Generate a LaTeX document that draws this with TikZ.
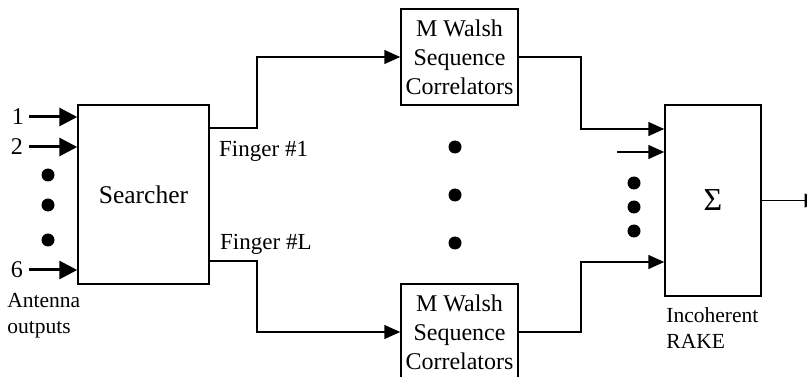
\documentclass[tikz,border=0pt]{standalone}
\usepackage{fontspec}
\setmainfont{Liberation Serif}
\usetikzlibrary{positioning,arrows.meta}

\begin{document}
\begin{tikzpicture}[
  x=1pt, y=-1pt,
  blockstyle/.style={
        draw,
        rectangle,
        line width=1.5pt,
        inner sep=0pt,
        align=center
  },
  wirestyle/.style={line width=1.5pt, -{Triangle[length=16pt, width=14pt]}},
  feedstyle/.style={line width=3pt, -{Triangle[length=18pt, width=18pt]}},
  dotstyle/.style={circle, fill, inner sep=0pt, minimum size=13pt},
  labelstyle/.style={inner sep=0pt, align=left, font=\fontsize{21.5}{26}\selectfont}
]

    \useasboundingbox (0,0) rectangle (807,377);
    \clip (0,0) rectangle (807,377);

    % searcher and its antenna inputs
    \node[blockstyle, minimum width=131pt, minimum height=179pt,
          font=\fontsize{25.5}{30}\selectfont] (searcher) at (143.5,194.5) {Searcher};

    \coordinate (A_1) at (29,117);
    \coordinate (A_2) at (29,147);
    \coordinate (A_6) at (29,270);
    \node[anchor=east, inner sep=0pt, font=\fontsize{24}{28}\selectfont] at (24,117) {1};
    \node[anchor=east, inner sep=0pt, font=\fontsize{24}{28}\selectfont] at (23,147) {2};
    \node[anchor=east, inner sep=0pt, font=\fontsize{24}{28}\selectfont] at (23,270) {6};
    \draw[feedstyle] (A_1) -- (A_1 -| searcher.west);
    \draw[feedstyle] (A_2) -- (A_2 -| searcher.west);
    \draw[feedstyle] (A_6) -- (A_6 -| searcher.west);

    \node[dotstyle] (d_1) at (48,175) {};
    \node[dotstyle] (d_2) at (48,205) {};
    \node[dotstyle] (d_3) at (48,240) {};

    \node[labelstyle, below right=8pt and -70pt of searcher.south west] (ant) {Antenna\\outputs};

    % walsh correlators
    \node[blockstyle, minimum width=117pt, minimum height=96pt,
          font=\fontsize{24}{29}\selectfont] (MW_1) at (459.5,57) {M Walsh\\Sequence\\Correlators};
    \node[blockstyle, minimum width=117pt, minimum height=96pt,
          font=\fontsize{24}{29}\selectfont] (MW_2) at (459.5,332) {M Walsh\\Sequence\\Correlators};

    \node[dotstyle] (m_1) at (455,147) {};
    \node[dotstyle] (m_2) at (455,195) {};
    \node[dotstyle] (m_3) at (455,243) {};

    \coordinate (F_1) at (257,128);
    \coordinate (F_L) at (257,261);
    \draw[wirestyle] (F_1 -| searcher.east) -- (F_1) |- (MW_1);
    \draw[wirestyle] (F_L -| searcher.east) -- (F_L) |- (MW_2);

    \node[anchor=base west, inner sep=0pt, font=\fontsize{23}{27}\selectfont] (f_1) at (219,157) {Finger \#1};
    \node[anchor=base west, inner sep=0pt, font=\fontsize{23}{27}\selectfont] (f_L) at (220,250) {Finger \#L};

    % incoherent combiner
    \node[blockstyle, minimum width=96pt, minimum height=191pt,
          font=\fontsize{32}{36}\selectfont] (sum) at (713,200.5) {Σ};

    \coordinate (R_1) at (581,129);
    \coordinate (R_2) at (617,152);
    \coordinate (R_L) at (581,262);
    \draw[wirestyle] (MW_1) -| (R_1) -- (R_1 -| sum.west);
    \draw[wirestyle] (R_2) -- (R_2 -| sum.west);
    \draw[wirestyle] (MW_2) -| (R_L) -- (R_L -| sum.west);

    \node[dotstyle] (s_1) at (634,183) {};
    \node[dotstyle] (s_2) at (634,207) {};
    \node[dotstyle] (s_3) at (634,231) {};

    \coordinate (out) at (820.5,200.5);
    \draw[wirestyle] (sum) -- (out);

    \node[labelstyle, below right=11pt and 2pt of sum.south west] (rake) {Incoherent\\RAKE};
\end{tikzpicture}
\end{document}
